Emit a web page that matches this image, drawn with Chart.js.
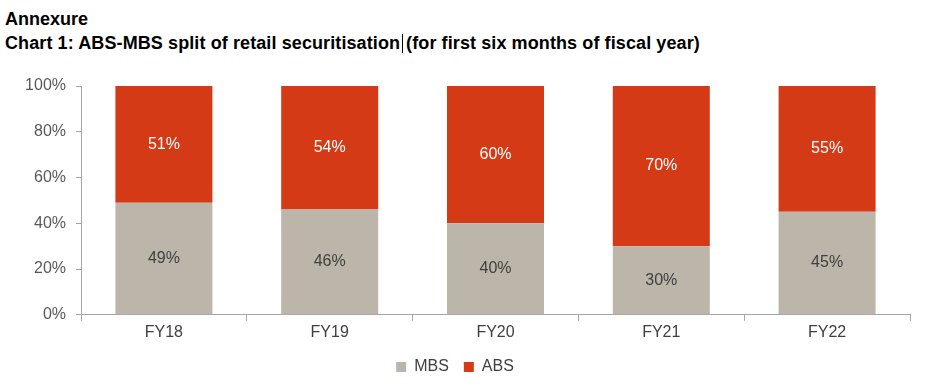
<!DOCTYPE html>
<html>
<head>
<meta charset="utf-8">
<script src="https://cdn.jsdelivr.net/npm/chart.js@4"></script>
<style>
  body { margin: 0; background: #fff; font-family: 'Liberation Sans', Arial, sans-serif; }
  #wrap { position: relative; width: 949px; height: 392px; }
  .hdr { position: absolute; left: 5px; font-size: 18px; font-weight: bold; color: #000; white-space: nowrap; }
  .caret { display: inline-block; width: 1px; height: 19px; background: #000; vertical-align: -4px; margin: 0 3px 0 2px; }
  #box { position: absolute; left: 0; top: 66px; width: 949px; height: 326px; }
</style>
</head>
<body>
<div id="wrap">
  <div class="hdr" style="top:9px">Annexure</div>
  <div class="hdr" style="top:33px; letter-spacing:0.1px">Chart 1: ABS-MBS split of retail securitisation<span class="caret"></span>(for first six months of fiscal year)</div>
  <div id="box"><canvas id="chart"></canvas></div>
</div>
<script>
// values in percent
const years = ['FY18', 'FY19', 'FY20', 'FY21', 'FY22'];
const mbsShare = [49, 46, 40, 30, 45];
const absShare = [51, 54, 60, 70, 55];
const yTicks = [0, 20, 40, 60, 80, 100];

const MBS_COLOR = '#bcb5aa';
const ABS_COLOR = '#d53a16';
const FONT = '"Liberation Sans", Arial, sans-serif';

// draws the % label in the middle of each bar segment
const segLabels = {
  id: 'segLabels',
  afterDatasetsDraw(chart) {
    const ctx = chart.ctx;
    ctx.save();
    ctx.font = '16px ' + FONT;
    ctx.textAlign = 'center';
    ctx.textBaseline = 'middle';
    chart.data.datasets.forEach((ds, i) => {
      const meta = chart.getDatasetMeta(i);
      meta.data.forEach((bar, j) => {
        const mid = (bar.y + bar.base) / 2;
        ctx.fillStyle = ds.labelColor;
        ctx.fillText(ds.data[j] + '%', bar.x, mid);
      });
    });
    ctx.restore();
  }
};

new Chart(document.getElementById('chart'), {
  type: 'bar',
  data: {
    labels: years,
    datasets: [
      { label: 'MBS', data: mbsShare, backgroundColor: MBS_COLOR, labelColor: '#404040',
        categoryPercentage: 0.585, barPercentage: 1 },
      { label: 'ABS', data: absShare, backgroundColor: ABS_COLOR, labelColor: '#ffffff',
        categoryPercentage: 0.585, barPercentage: 1 }
    ]
  },
  options: {
    responsive: true,
    maintainAspectRatio: false,
    animation: false,
    layout: { padding: { top: 20, right: 39, left: 0, bottom: 7 } },
    plugins: {
      legend: {
        position: 'bottom',
        labels: {
          boxWidth: 10, boxHeight: 10, padding: 15,
          color: '#404040',
          font: { size: 16, family: FONT }
        }
      },
      tooltip: { enabled: false }
    },
    scales: {
      x: {
        stacked: true,
        grid: { drawOnChartArea: false, offset: true, tickLength: 6, color: '#a6a6a6' },
        border: { color: '#a6a6a6' },
        ticks: { color: '#404040', padding: 2, font: { size: 16, family: FONT } }
      },
      y: {
        stacked: true,
        min: 0, max: 100,
        afterBuildTicks(axis) { axis.ticks = yTicks.map(v => ({ value: v })); },
        afterFit(axis) { axis.width = 81; },
        grid: { drawOnChartArea: false, tickLength: 5, color: '#a6a6a6' },
        border: { color: '#a6a6a6' },
        ticks: {
          color: '#595959', padding: 10,
          font: { size: 16, family: FONT },
          callback: v => v + '%'
        }
      }
    }
  },
  plugins: [segLabels]
});
</script>
</body>
</html>
